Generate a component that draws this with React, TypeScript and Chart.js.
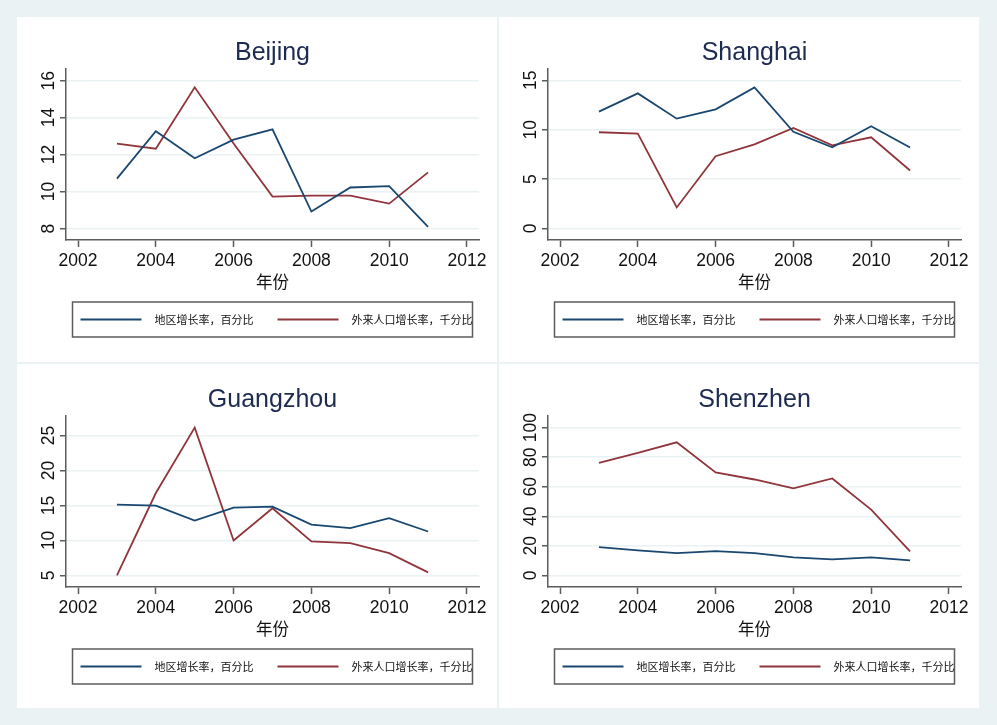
import React, { useEffect, useRef } from 'react';
import { Chart, registerables } from 'chart.js';

Chart.register(...registerables);

// ---------- data ----------
const years = [2003, 2004, 2005, 2006, 2007, 2008, 2009, 2010, 2011];
const xTicks = [2002, 2004, 2006, 2008, 2010, 2012];
const seriesLabels = ['地区增长率，百分比', '外来人口增长率，千分比'];
const xAxisTitle = '年份';

const beijingRegion = [10.7, 13.26, 11.8, 12.81, 13.37, 8.92, 10.22, 10.29, 8.09];
const beijingMigrant = [12.59, 12.32, 15.64, 12.6, 9.73, 9.78, 9.78, 9.35, 11.04];
const beijingTicks = [8, 10, 12, 14, 16];

const shanghaiRegion = [11.83, 13.68, 11.12, 12.06, 14.29, 9.78, 8.22, 10.34, 8.19];
const shanghaiMigrant = [9.74, 9.61, 2.12, 7.31, 8.52, 10.18, 8.42, 9.23, 5.86];
const shanghaiTicks = [0, 5, 10, 15];

const guangzhouRegion = [15.12, 14.98, 12.84, 14.69, 14.83, 12.27, 11.75, 13.17, 11.27];
const guangzhouMigrant = [5.0, 16.78, 26.14, 9.99, 14.6, 9.85, 9.61, 8.18, 5.43];
const guangzhouTicks = [5, 10, 15, 20, 25];

const shenzhenRegion = [19.1, 16.9, 15.1, 16.4, 15.1, 12.1, 10.8, 12.1, 10.1];
const shenzhenMigrant = [76.2, 83.0, 90.1, 69.7, 64.9, 58.9, 65.6, 44.5, 16.2];
const shenzhenTicks = [0, 20, 40, 60, 80, 100];

// ---------- style ----------
const NAVY = '#1a476f';
const MAROON = '#90353b';
const GRID = '#eaf2f3';
const AXIS = '#5c5c5c';
const TITLE = '#1e2b50';
const BG = '#eaf2f3';
const LATIN = '"Liberation Sans", Arial, sans-serif';
const CJK = '"Noto Sans CJK SC", "Noto Sans", sans-serif';

type PanelProps = {
  title: string;
  region: number[];
  migrant: number[];
  yTicks: number[];
  yMin: number;
  yMax: number;
  left: number;
  top: number;
  width: number;
  height: number;
};

const PLOT_TOP = 52;
const PLOT_BOTTOM = 223;
const PLOT_LEFT = 49;
const PLOT_RIGHT_PAD = 18;

function Panel(props: PanelProps) {
  const ref = useRef<HTMLCanvasElement | null>(null);
  useEffect(() => {
    const canvas = ref.current;
    if (!canvas) return;
    const { title, region, migrant, yTicks, yMin, yMax, width, height } = props;

    const decor = {
      id: 'stataDecor',
      afterDraw(chart: any) {
        const { ctx, chartArea: ca, scales } = chart;
        const xs = scales.x;
        const ys = scales.y;
        const cx = (ca.left + ca.right) / 2;
        ctx.save();
        // title
        ctx.fillStyle = TITLE;
        ctx.font = `25px ${LATIN}`;
        ctx.textAlign = 'center';
        ctx.textBaseline = 'alphabetic';
        ctx.fillText(title, cx, 43);
        // y tick labels (rotated)
        ctx.fillStyle = '#111';
        ctx.font = `17.5px ${LATIN}`;
        for (const v of yTicks) {
          const py = ys.getPixelForValue(v);
          ctx.save();
          ctx.translate(ca.left - 12.5, py);
          ctx.rotate(-Math.PI / 2);
          ctx.textAlign = 'center';
          ctx.textBaseline = 'alphabetic';
          ctx.fillText(String(v), 0, 0);
          ctx.restore();
        }
        // x tick labels
        ctx.textAlign = 'center';
        ctx.textBaseline = 'alphabetic';
        for (const v of xTicks) {
          ctx.fillText(String(v), xs.getPixelForValue(v), ca.bottom + 25.5);
        }
        // x axis title
        ctx.font = `16.5px ${CJK}`;
        ctx.textBaseline = 'middle';
        ctx.fillText(xAxisTitle, cx, ca.bottom + 42);
        // legend box
        const bw = 400;
        const bh = 35;
        const bx = cx - bw / 2;
        const by = ca.bottom + 62;
        ctx.fillStyle = '#fff';
        ctx.fillRect(bx, by, bw, bh);
        ctx.strokeStyle = AXIS;
        ctx.lineWidth = 1.5;
        ctx.strokeRect(bx, by, bw, bh);
        const ly = by + bh / 2;
        const items = chart.data.datasets;
        const sampleX = [bx + 8, bx + 205];
        items.forEach((ds: any, i: number) => {
          ctx.strokeStyle = ds.borderColor;
          ctx.lineWidth = 1.8;
          ctx.beginPath();
          ctx.moveTo(sampleX[i], ly);
          ctx.lineTo(sampleX[i] + 61, ly);
          ctx.stroke();
          ctx.fillStyle = '#111';
          ctx.font = `11px ${CJK}`;
          ctx.textAlign = 'left';
          ctx.textBaseline = 'middle';
          ctx.fillText(ds.label, sampleX[i] + 74, ly);
        });
        ctx.restore();
      },
    };

    const chart = new Chart(canvas, {
      type: 'line',
      data: {
        datasets: [
          {
            label: seriesLabels[0],
            data: years.map((x, i) => ({ x, y: region[i] })),
            borderColor: NAVY,
            backgroundColor: NAVY,
            borderWidth: 1.8,
            pointRadius: 0,
            tension: 0,
          },
          {
            label: seriesLabels[1],
            data: years.map((x, i) => ({ x, y: migrant[i] })),
            borderColor: MAROON,
            backgroundColor: MAROON,
            borderWidth: 1.8,
            pointRadius: 0,
            tension: 0,
          },
        ],
      },
      options: {
        animation: false,
        responsive: false,
        events: [],
        layout: { padding: { left: 0, top: PLOT_TOP, right: PLOT_RIGHT_PAD, bottom: 0 } },
        plugins: {
          legend: { display: false },
          title: { display: false },
          tooltip: { enabled: false },
        },
        scales: {
          x: {
            type: 'linear',
            min: 2001.69,
            max: 2012.31,
            afterBuildTicks: (s: any) => {
              s.ticks = xTicks.map((v) => ({ value: v }));
            },
            afterFit: (s: any) => {
              s.height = height - PLOT_BOTTOM;
            },
            ticks: { display: false },
            grid: {
              drawOnChartArea: false,
              drawTicks: true,
              tickLength: 7,
              tickColor: AXIS,
              tickWidth: 1.5,
            },
            border: { color: AXIS, width: 1.5 },
          },
          y: {
            type: 'linear',
            min: yMin,
            max: yMax,
            afterBuildTicks: (s: any) => {
              s.ticks = yTicks.map((v) => ({ value: v }));
            },
            afterFit: (s: any) => {
              s.width = PLOT_LEFT;
            },
            ticks: { display: false },
            grid: {
              color: GRID,
              lineWidth: 1.5,
              drawTicks: true,
              tickLength: 6,
              tickColor: AXIS,
              tickWidth: 1.5,
            },
            border: { color: AXIS, width: 1.5 },
          },
        },
      } as any,
      plugins: [decor],
    });
    return () => chart.destroy();
  }, []);

  return (
    <div
      style={{
        position: 'absolute',
        left: props.left,
        top: props.top,
        width: props.width,
        height: props.height,
        background: '#fff',
      }}
    >
      <canvas ref={ref} width={props.width} height={props.height} style={{ display: 'block' }} />
    </div>
  );
}

export default function App() {
  return (
    <div
      style={{
        position: 'absolute',
        left: 0,
        top: 0,
        width: 997,
        height: 725,
        background: BG,
        overflow: 'hidden',
      }}
    >
      <Panel title="Beijing" region={beijingRegion} migrant={beijingMigrant} yTicks={beijingTicks}
        yMin={7.38} yMax={16.63} left={17} top={17} width={480} height={345} />
      <Panel title="Shanghai" region={shanghaiRegion} migrant={shanghaiMigrant} yTicks={shanghaiTicks}
        yMin={-1.18} yMax={16.15} left={499} top={17} width={480} height={345} />
      <Panel title="Guangzhou" region={guangzhouRegion} migrant={guangzhouMigrant} yTicks={guangzhouTicks}
        yMin={3.33} yMax={27.8} left={17} top={364} width={480} height={344} />
      <Panel title="Shenzhen" region={shenzhenRegion} migrant={shenzhenMigrant} yTicks={shenzhenTicks}
        yMin={-7.9} yMax={107.9} left={499} top={364} width={480} height={344} />
    </div>
  );
}
